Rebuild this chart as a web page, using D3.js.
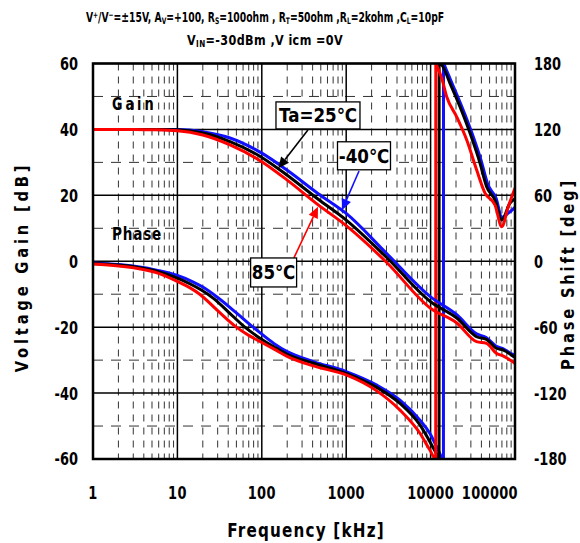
<!DOCTYPE html>
<html><head><meta charset="utf-8">
<script src="https://cdn.jsdelivr.net/npm/d3@7"></script>
<style>
body{margin:0;background:#fff;}
text{font-family:"DejaVu Sans","Liberation Sans",sans-serif;font-weight:bold;fill:#000;}
</style></head>
<body><svg id="c" width="580" height="543"></svg>
<script>
// ---------- data ----------
const xTicks = [1, 10, 100, 1000, 10000, 100000];
const gainTicks = [60, 40, 20, 0, -20, -40, -60];
const phaseTicks = [180, 120, 60, 0, -60, -120, -180];

// Gain (dB) vs frequency (kHz)
const freqGain = [1, 3, 5, 10, 20, 42, 100, 200, 466, 1000, 3000, 10000, 20600, 35000, 46000, 60000, 72000, 95000, 100000];
const gainM40 = [40, 40, 40, 40, 39.3, 37.4, 32.8, 27.6, 20.5, 14.5, 2.4, -10.8, -16.3, -22.0, -23.2, -25.8, -26.5, -28.3, -28.5];
const gain25  = [40, 40, 40, 39.9, 38.9, 36.3, 31.5, 26.1, 18.8, 12.5, 1.2, -12.3, -17.3, -22.9, -23.7, -26.4, -26.9, -28.8, -29.2];
const gain85  = [40, 40, 39.9, 39.6, 38.3, 35.3, 30.2, 24.6, 17.1, 10.8, -0.3, -14.3, -18.8, -24.4, -24.9, -27.9, -28.7, -30.6, -31.0];

// Phase (deg) vs frequency (kHz)
const freqPhaseM40 = [1, 2, 3.26, 6, 10, 15, 20, 30, 50, 79, 95, 140, 197, 408, 1000, 2300, 4340, 7480, 9800, 12000, 14200, 14220, 15100, 17950, 23550, 30900, 39550, 47860, 59560, 70150, 84000, 100000];
const phaseM40     = [-1.5, -3, -4.8, -8.5, -13, -18.5, -23.5, -33, -47, -60, -65, -75, -82, -91.3, -100.4, -112.7, -126.4, -144.6, -156.6, -170, -180, 180, 175.6, 162, 140.4, 116.7, 92, 69.5, 57.6, 40, 44, 49];
const freqPhase25  = [1, 2, 3.26, 6, 10, 14, 19, 27, 40, 63, 95, 140, 197, 408, 1000, 2300, 4340, 7480, 9800, 11500, 12600, 12620, 13550, 16980, 22280, 29310, 38460, 46130, 57940, 69660, 87300, 100000];
const phase25      = [-2, -3.5, -5.4, -9.5, -15.4, -20.5, -26, -34, -46, -60, -70, -78, -84.4, -92.8, -102, -114.8, -129.4, -149, -164.2, -174, -180, 180, 178.6, 162, 140.7, 116.7, 89.4, 67.9, 55.7, 37.5, 53, 57];
const freqPhase85  = [1, 2, 3.26, 6, 10, 14, 18.4, 30, 50, 70, 95, 140, 197, 408, 1000, 2300, 4340, 7480, 9800, 11500, 11520, 12000, 13550, 15520, 20370, 26800, 35160, 44160, 57940, 69660, 83180, 100000];
const phase85      = [-2.5, -4.3, -6.3, -11, -18.4, -24, -30, -45, -60, -67.5, -73, -80, -86.3, -95.3, -103.5, -118, -135.5, -156.6, -171.8, -180, 180, 177, 166.5, 149.7, 131.5, 110.4, 83, 62, 51.2, 31.4, 49.6, 66.7];

const seriesColors = {m40: "#1010ff", t25: "#000000", t85: "#ff0000"};

// annotations (frequency kHz, gain dB)
const labels = [
  {text: "Ta=25℃", f: 463, g: 44.25, w: 84, h: 27, color: "#000", from: [352, 39.8], to: [157, 28.2]},
  {text: "-40℃", f: 1625, g: 32, w: 53, h: 28, color: "#1010ff", from: [1418, 27.4], to: [891, 15.5]},
  {text: "85℃", f: 138, g: -3.4, w: 46, h: 29, color: "#ff0000", from: [240, 1], to: [463, 16.5]}
];

// ---------- layout ----------
const L = 93, R = 515, T = 63.5, B = 459;
const svg = d3.select("#c");
const x = d3.scaleLog().domain([1, 100000]).range([L, R]);
const y = d3.scaleLinear().domain([-60, 60]).range([B, T]);
const yP = d3.scaleLinear().domain([-180, 180]).range([B, T]);

// text helper: horizontally condensed bold text
function txt(parent, px, py, str, o) {
  o = o || {};
  const sx = o.sx || 0.72, rot = o.rot ? ` rotate(${o.rot})` : "";
  const t = parent.append("text")
    .attr("transform", `translate(${px},${py})${rot} scale(${sx},1)`)
    .attr("font-size", o.fs || 18)
    .attr("text-anchor", o.anchor || "start");
  if (o.dy) t.attr("dy", o.dy);
  if (o.ls) t.attr("letter-spacing", o.ls);
  if (str !== null) t.text(str);
  return t;
}

// grid
const g = svg.append("g");
const minors = [];
for (let d = 0; d < 5; d++) for (let k = 2; k <= 9; k++) minors.push(k * Math.pow(10, d));
g.selectAll(".mv").data(minors).join("line")
  .attr("x1", d => x(d)).attr("x2", d => x(d)).attr("y1", T).attr("y2", B)
  .attr("stroke", "#333").attr("stroke-width", 1).attr("stroke-dasharray", "7,6");
const halfTicks = [50, 30, 10, -10, -30, -50];
g.selectAll(".hd").data(halfTicks).join("line")
  .attr("x1", L).attr("x2", R).attr("y1", d => y(d)).attr("y2", d => y(d))
  .attr("stroke", "#333").attr("stroke-width", 1).attr("stroke-dasharray", "10,8");
g.selectAll(".hm").data(gainTicks).join("line")
  .attr("x1", L).attr("x2", R).attr("y1", d => y(d)).attr("y2", d => y(d))
  .attr("stroke", "#000").attr("stroke-width", 1.5);
g.selectAll(".vm").data(xTicks).join("line")
  .attr("x1", d => x(d)).attr("x2", d => x(d)).attr("y1", T).attr("y2", B)
  .attr("stroke", "#000").attr("stroke-width", 1.5);

// clip
svg.append("clipPath").attr("id", "clip").append("rect")
  .attr("x", L).attr("y", T).attr("width", R - L).attr("height", B - T);
const plot = svg.append("g").attr("clip-path", "url(#clip)");

const lineG = d3.line().x(d => x(d[0])).y(d => y(d[1])).curve(d3.curveMonotoneX);
const lineP = d3.line().x(d => x(d[0])).y(d => yP(d[1])).curve(d3.curveMonotoneX);
const zip = (a, b) => a.map((v, i) => [v, b[i]]);

const order = [
  {c: seriesColors.m40, gain: gainM40, pf: freqPhaseM40, p: phaseM40},
  {c: seriesColors.t25, gain: gain25, pf: freqPhase25, p: phase25},
  {c: seriesColors.t85, gain: gain85, pf: freqPhase85, p: phase85}
];
order.forEach(s => {
  plot.append("path").attr("d", lineP(zip(s.pf, s.p)))
    .attr("fill", "none").attr("stroke", s.c).attr("stroke-width", 3).attr("stroke-linejoin", "round");
});
order.forEach(s => {
  plot.append("path").attr("d", lineG(zip(freqGain, s.gain)))
    .attr("fill", "none").attr("stroke", s.c).attr("stroke-width", 3).attr("stroke-linejoin", "round");
});

// border
svg.append("rect").attr("x", L).attr("y", T).attr("width", R - L).attr("height", B - T)
  .attr("fill", "none").attr("stroke", "#000").attr("stroke-width", 2.5);

// axes labels
const ax = svg.append("g");
gainTicks.forEach(d => txt(ax, 78, y(d), String(d), {anchor: "end", dy: "0.36em"}));
phaseTicks.forEach(d => txt(ax, 534, yP(d), String(d), {anchor: "start", dy: "0.36em"}));
xTicks.forEach((d, i) => {
  const last = i === xTicks.length - 1;
  txt(ax, last ? x(d) + 3 : x(d), 499, String(d), {anchor: last ? "end" : "middle", ls: 0.5});
});

txt(svg, 306, 537, "Frequency [kHz]", {anchor: "middle", fs: 19, sx: 0.8, ls: 1.5});
txt(svg, 28, 267, "Voltage Gain [dB]", {anchor: "middle", fs: 18, sx: 0.82, ls: 4.6, rot: -90});
txt(svg, 574, 274, "Phase Shift [deg]", {anchor: "middle", fs: 18, sx: 0.82, ls: 3.4, rot: -90});

// title
function addParts(t, parts) {
  parts.forEach(p => {
    const ts = t.append("tspan").text(p[0]);
    if (p[1] === "sub") ts.attr("baseline-shift", "-25%").attr("font-size", 9);
    if (p[1] === "sup") ts.attr("baseline-shift", "35%").attr("font-size", 9);
  });
}
const t1 = txt(svg, 265, 22, null, {anchor: "middle", fs: 14, sx: 0.66});
addParts(t1, [["V"], ["+", "sup"], ["/V"], ["−", "sup"], ["=±15V, A"], ["V", "sub"], ["=+100, R"], ["S", "sub"],
  ["=100ohm , R"], ["T", "sub"], ["=50ohm ,R"], ["L", "sub"], ["=2kohm ,C"], ["L", "sub"], ["=10pF"]]);
const t2 = txt(svg, 265, 45, null, {anchor: "middle", fs: 14, sx: 0.8, ls: 0.5});
addParts(t2, [["V"], ["IN", "sub"], ["=-30dBm ,V icm =0V"]]);

// Gain / Phase labels
txt(svg, x(1.68), y(45.9), "Gain", {fs: 17, sx: 0.75, ls: 4});
txt(svg, x(1.68), y(6.4), "Phase", {fs: 17, sx: 0.8, ls: 1});

// annotation boxes and arrows
function arrow(x1, y1, x2, y2, color) {
  const ang = Math.atan2(y2 - y1, x2 - x1);
  const len = 11, wid = 5;
  const bx = x2 - len * Math.cos(ang), by = y2 - len * Math.sin(ang);
  svg.append("line").attr("x1", x1).attr("y1", y1).attr("x2", bx).attr("y2", by)
    .attr("stroke", color).attr("stroke-width", 1.6);
  const px = -Math.sin(ang) * wid, py = Math.cos(ang) * wid;
  svg.append("path").attr("d", `M${x2},${y2}L${bx + px},${by + py}L${bx - px},${by - py}Z`).attr("fill", color);
}
labels.forEach(l => {
  arrow(x(l.from[0]), y(l.from[1]), x(l.to[0]), y(l.to[1]), l.color);
  const cx = x(l.f), cy = y(l.g);
  svg.append("rect").attr("x", cx - l.w / 2).attr("y", cy - l.h / 2).attr("width", l.w).attr("height", l.h)
    .attr("fill", "#fff").attr("stroke", "#000").attr("stroke-width", 1.3);
  txt(svg, cx, cy, l.text, {anchor: "middle", dy: "0.36em", fs: 19, sx: 0.88});
});
</script></body></html>
